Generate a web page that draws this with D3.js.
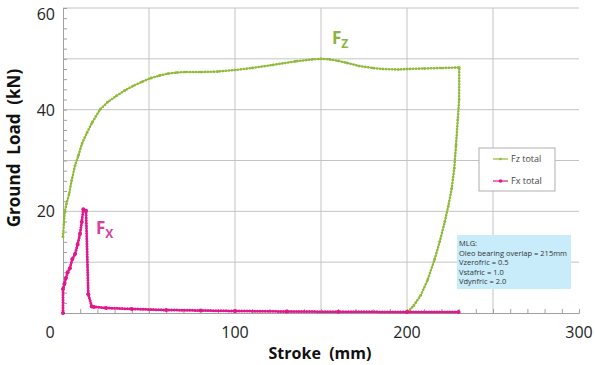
<!DOCTYPE html>
<html>
<head>
<meta charset="utf-8">
<script src="https://cdn.jsdelivr.net/npm/d3@7"></script>
<style>
  body { margin: 0; background: #fff; }
  svg { font-family: "Open Sans", "Noto Sans", sans-serif; }
</style>
</head>
<body>
<div id="chart"></div>
<script>
// stroke (mm) / load (kN)
const fzStroke = [0, 0.5, 1, 2, 3.5, 5, 7, 9, 11, 14, 17, 21.5, 26, 31, 36, 41, 46, 51, 56, 61, 66, 71, 80, 90, 100, 110, 122, 135, 145, 150, 155, 160, 165, 172, 180, 186, 195, 200, 210, 220, 230.4,
  230.3, 229.5, 228.5, 227.5, 226, 224, 222, 219, 216, 212, 208, 204, 200];
const fzLoad = [15, 17.5, 19.8, 21.5, 23.3, 26, 29, 31, 33.3, 35.5, 37.5, 40, 41.5, 42.7, 43.8, 44.7, 45.5, 46.2, 46.7, 47.1, 47.3, 47.4, 47.4, 47.5, 47.8, 48.2, 48.8, 49.5, 49.9, 50, 49.9, 49.6, 49.2, 48.6, 48.2, 48, 47.9, 48, 48.1, 48.2, 48.3,
  42, 38, 33, 28.5, 24.5, 21, 18, 14, 10.5, 6.5, 3.5, 1.5, 0];

const fxStroke = [0, 0, 0.8, 1.7, 2.7, 4, 5.4, 7, 8.5, 9.9, 10.9, 11.8, 13.4, 14.7, 16.7, 18, 25, 40, 60, 80, 100, 130, 160, 200, 230];
const fxLoad = [0, 4.7, 5.7, 6.9, 8, 8.8, 10.6, 11.6, 13.5, 15.6, 17.9, 20.4, 20.1, 3.7, 1.3, 1.2, 1.0, 0.8, 0.6, 0.5, 0.4, 0.3, 0.25, 0.2, 0.2];

const xTicks = [0, 100, 200, 300];
const yTicks = [20, 40, 60];
const xGrid = [50, 100, 150, 200, 250];
const yGrid = [10, 20, 30, 40, 50, 60];
const legendNames = ['Fz total', 'Fx total'];
const infoLines = ['MLG:', 'Oleo bearing overlap = 215mm', 'Vzerofric = 0.5', 'Vstafric = 1.0', 'Vdynfric = 2.0'];

const W = 595, H = 365;
const green = '#8fba3a', magenta = '#e0188c';

const svg = d3.select('#chart').append('svg').attr('width', W).attr('height', H);

const x = d3.scaleLinear().domain([0, 300]).range([63, 579]);
const y = d3.scaleLinear().domain([0, 60]).range([313, 8]);

// Gitter
svg.append('g').selectAll('line').data(xGrid).join('line')
  .attr('x1', d => x(d)).attr('x2', d => x(d))
  .attr('y1', y(0)).attr('y2', y(60))
  .attr('stroke', '#c4c4c4').attr('stroke-width', 1);
svg.append('g').selectAll('line').data(yGrid).join('line')
  .attr('x1', x(0)).attr('x2', x(300))
  .attr('y1', d => y(d)).attr('y2', d => y(d))
  .attr('stroke', '#c4c4c4').attr('stroke-width', 1);

// Achsen (kleine Ticks nach innen)
const xAxis = d3.axisTop(x).tickValues(d3.range(0, 301, 10)).tickSize(4).tickFormat('');
svg.append('g').attr('transform', `translate(0,${y(0)})`).call(xAxis)
  .call(g => g.selectAll('line, path').attr('stroke', '#a0a0a0'));
const yAxis = d3.axisRight(y).tickValues(d3.range(0, 61, 2)).tickSize(4).tickFormat('');
svg.append('g').attr('transform', `translate(${x(0)},0)`).call(yAxis)
  .call(g => g.selectAll('line, path').attr('stroke', '#a0a0a0'));

// Tick-Labels
svg.append('g').selectAll('text').data(xTicks.slice(1)).join('text')
  .attr('x', d => x(d)).attr('y', 338)
  .attr('text-anchor', 'middle').attr('font-size', 16).attr('fill', '#222')
  .text(d => d);
svg.append('g').selectAll('text').data(yTicks).join('text')
  .attr('x', 55).attr('y', d => d === 60 ? y(d) + 12 : y(d) + 6)
  .attr('text-anchor', 'end').attr('font-size', 16).attr('fill', '#222')
  .text(d => d);
svg.append('text').attr('x', 50).attr('y', 338)
  .attr('text-anchor', 'middle').attr('font-size', 16).attr('fill', '#222').text(xTicks[0]);

// Achsentitel
svg.append('text').attr('x', 320).attr('y', 359)
  .attr('text-anchor', 'middle').attr('font-size', 16).attr('font-weight', 'bold').attr('fill', '#111')
  .attr('xml:space', 'preserve')
  .text('Stroke  (mm)');
svg.append('text').attr('transform', 'translate(20,148) rotate(-90)')
  .attr('text-anchor', 'middle').attr('font-size', 17).attr('font-weight', 'bold').attr('fill', '#111')
  .attr('xml:space', 'preserve')
  .text('Ground  Load  (kN)');

// Linien
const line = d3.line().x(d => x(d[0])).y(d => y(d[1]));
const fzData = fzStroke.map((s, i) => [s, fzLoad[i]]);
const fxData = fxStroke.map((s, i) => [s, fxLoad[i]]);

function drawSeries(data, color, width, dotW, gap, r) {
  const g = svg.append('g');
  g.append('path').datum(data).attr('d', line)
    .attr('fill', 'none').attr('stroke', color).attr('stroke-width', width);
  g.append('path').datum(data).attr('d', line)
    .attr('fill', 'none').attr('stroke', color).attr('stroke-width', dotW)
    .attr('stroke-linecap', 'round').attr('stroke-dasharray', `0 ${gap}`);
  g.selectAll('circle').data(data).join('circle')
    .attr('cx', d => x(d[0])).attr('cy', d => y(d[1])).attr('r', r).attr('fill', color);
}
drawSeries(fzData, green, 1.2, 2.6, 3, 1.3);
drawSeries(fxData, magenta, 1.4, 3, 2.6, 2);

// Beschriftung F_Z / F_X
function label(px, py, sub, color) {
  const t = svg.append('text').attr('x', px).attr('y', py)
    .attr('font-size', 17).attr('font-weight', 'bold').attr('fill', color);
  t.append('tspan').text('F');
  t.append('tspan').attr('dy', 4).attr('font-size', 12).text(sub);
}
label(332, 44, 'Z', '#8ab43c');
label(96, 234, 'X', '#d8409a');

// Legende
const leg = svg.append('g').attr('transform', 'translate(479,148)');
leg.append('rect').attr('width', 76).attr('height', 43)
  .attr('fill', '#fff').attr('stroke', '#b0b0b0');
leg.selectAll('g').data(legendNames).join('g')
  .attr('transform', (d, i) => `translate(0,${11 + i * 22})`)
  .each(function (d, i) {
    const c = i === 0 ? green : magenta;
    const e = d3.select(this);
    e.append('line').attr('x1', 14).attr('x2', 29).attr('stroke', c).attr('stroke-width', 1.2);
    e.append('circle').attr('cx', 21.5).attr('r', i === 0 ? 1.3 : 1.8).attr('fill', c);
    e.append('text').attr('x', 32).attr('y', 3).attr('font-size', 9).attr('fill', '#444').text(d);
  });

// Infobox
const info = svg.append('g').attr('transform', 'translate(457,235)');
info.append('rect').attr('width', 114).attr('height', 54).attr('fill', '#c8ecfa');
info.selectAll('text').data(infoLines).join('text')
  .attr('x', 2).attr('y', (d, i) => 11 + i * 9.5)
  .attr('font-size', 7.5).attr('fill', '#333').text(d => d);
</script>
</body>
</html>
